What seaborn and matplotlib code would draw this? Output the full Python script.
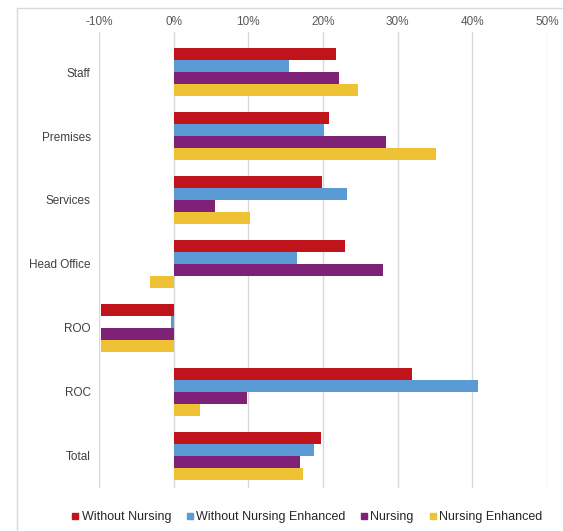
import matplotlib
matplotlib.use("Agg")
import matplotlib.pyplot as plt
import seaborn as sns
import pandas as pd
from matplotlib.patches import Rectangle
from matplotlib.lines import Line2D
from matplotlib.ticker import FuncFormatter

categories = ["Staff", "Premises", "Services", "Head Office", "ROO", "ROC", "Total"]
series = ["Without Nursing", "Without Nursing Enhanced", "Nursing", "Nursing Enhanced"]
without_nursing = [21.7, 20.8, 19.8, 22.9, -9.7, 31.9, 19.7]
without_nursing_enh = [15.5, 20.2, 23.2, 16.5, -0.3, 40.8, 18.8]
nursing = [22.1, 28.4, 5.6, 28.0, -9.7, 9.8, 16.9]
nursing_enh = [24.7, 35.1, 10.2, -3.2, -9.7, 3.5, 17.3]
colors = ["#C0141C", "#5B9BD5", "#7E2277", "#EFC134"]
xticks = [-10, 0, 10, 20, 30, 40, 50]

rows = []
for s, vals in zip(series, [without_nursing, without_nursing_enh, nursing, nursing_enh]):
    for c, v in zip(categories, vals):
        rows.append({"Category": c, "Series": s, "Value": v})
df = pd.DataFrame(rows)

sns.set_theme(style="white")
plt.rcParams["font.family"] = ["Liberation Sans", "DejaVu Sans"]

fig = plt.figure(figsize=(5.63, 5.31), dpi=100)
ax = fig.add_axes([99 / 563, 1 - 488 / 531, 448 / 563, 456 / 531])

sns.barplot(data=df, y="Category", x="Value", hue="Series", order=categories,
            hue_order=series, palette=colors, orient="h", width=0.76,
            saturation=1, errorbar=None, ax=ax, legend=False, linewidth=0)

ax.set_xlim(-10, 50)
ax.set_ylim(6.5, -0.625)
ax.set_xticks(xticks)
ax.xaxis.set_major_formatter(FuncFormatter(lambda v, p: f"{int(round(v))}%"))
ax.xaxis.tick_top()
ax.tick_params(axis="x", length=0, pad=3, labelsize=8.5, labelcolor="#595959")
ax.tick_params(axis="y", length=0, pad=6, labelsize=8.5, labelcolor="#404040")
ax.set_xlabel("")
ax.set_ylabel("")
ax.grid(axis="x", color="#d9d9d9", linewidth=1)
ax.set_axisbelow(True)
for sp in ax.spines.values():
    sp.set_visible(False)

hs = [Line2D([0], [0], marker="s", linestyle="", markersize=5,
             markerfacecolor=c, markeredgecolor=c) for c in colors]
fig.legend(hs, series, loc="center", bbox_to_anchor=(0.545, 0.026), ncol=4,
           frameon=False, fontsize=9, handlelength=0.6, handletextpad=0.2,
           columnspacing=1.2, borderaxespad=0)

fig.patches.append(Rectangle((17 / 563, -0.1), 1.2, 1 - 8 / 531 + 0.1,
                             transform=fig.transFigure, fill=False,
                             edgecolor="#d9d9d9", linewidth=1))

fig.savefig("out.png", dpi=100)
